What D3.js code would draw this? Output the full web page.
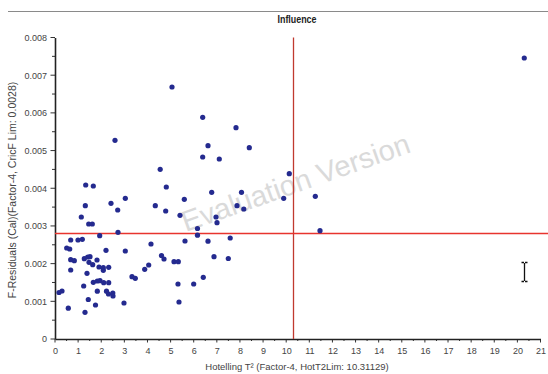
<!DOCTYPE html>
<html>
<head>
<meta charset="utf-8">
<script src="https://cdn.jsdelivr.net/npm/d3@7"></script>
<style>
  html, body { margin: 0; padding: 0; background: #fff; }
  svg { display: block; }
</style>
</head>
<body>
<svg id="chart" width="548" height="374"></svg>
<script>
// Influence plot: Hotelling T² vs F-residuals, 4-factor model
const hotellingT2 = [
  1.328, 1.657, 4.814, 1.311, 2.422, 3.041, 2.712, 4.338, 4.788, 5.593,
  5.407, 1.138, 1.458, 1.613, 1.933, 2.725, 6.163, 5.623, 4.152, 0.679,
  0.995, 1.181, 0.506, 0.636, 2.206, 3.041, 0.679, 0.835, 1.267, 1.414,
  1.514, 1.817, 1.471, 1.631, 1.903, 2.089, 2.323, 2.089, 0.679, 1.384,
  4.053, 3.880, 4.606, 4.715, 5.147, 5.333, 3.330, 3.473, 1.657, 1.830,
  1.946, 2.106, 2.323, 1.241, 5.320, 5.999, 0.303, 0.173, 1.830, 2.228,
  2.314, 2.500, 2.509, 1.440, 1.752, 2.984, 5.363, 0.575, 1.298, 6.778,
  8.067, 7.872, 8.166, 9.892, 6.964, 7.007, 6.163, 6.618, 7.578, 6.877,
  7.496, 6.414, 5.061, 6.388, 7.829, 6.618, 6.388, 7.106, 8.404, 4.550,
  10.134, 11.259, 11.462, 20.298, 2.595
];
const fResiduals = [
  0.004086, 0.004060, 0.004033, 0.003537, 0.003601, 0.003733, 0.003423, 0.003537, 0.003396, 0.003707,
  0.003282, 0.003237, 0.003051, 0.003051, 0.002741, 0.002831, 0.002932, 0.002600, 0.002521, 0.002627,
  0.002627, 0.002645, 0.002415, 0.002388, 0.002354, 0.002335, 0.002104, 0.002078, 0.002131, 0.002176,
  0.002184, 0.002096, 0.002035, 0.001971, 0.001910, 0.001892, 0.001902, 0.001823, 0.001831, 0.001743,
  0.001964, 0.001849, 0.002216, 0.002123, 0.002051, 0.002051, 0.001653, 0.001611, 0.001504, 0.001539,
  0.001547, 0.001494, 0.001494, 0.001406, 0.001459, 0.001459, 0.001274, 0.001234, 0.001268, 0.001268,
  0.001194, 0.001221, 0.001141, 0.001048, 0.000902, 0.000955, 0.000982, 0.000817, 0.000708, 0.003893,
  0.003893, 0.003537, 0.003449, 0.003733, 0.003237, 0.003086, 0.002754, 0.002595, 0.002680, 0.002184,
  0.002136, 0.001637, 0.006687, 0.005883, 0.005607, 0.005129, 0.004829, 0.004776, 0.005076, 0.004503,
  0.004386, 0.003786, 0.002874, 0.007456, 0.005272
];
const xTickValues = d3.range(0, 22);
const yTickValues = [0, 0.001, 0.002, 0.003, 0.004, 0.005, 0.006, 0.007, 0.008];
const t2Limit = 10.31129;
const fLimit = 0.0028;

const titleText = "Influence";
const xTitle = "Hotelling T\u00B2 (Factor-4, HotT2Lim: 10.31129)";
const yTitle = "F-Residuals (Cal)(Factor-4, CricF Lim: 0.0028)";
const watermark = "Evaluation Version";

const points = hotellingT2.map((t, i) => ({ t2: t, f: fResiduals[i] }));

const svg = d3.select("#chart");
const font = "'Liberation Sans', Arial, sans-serif";

const x = d3.scaleLinear().domain([0, 21]).range([55, 540.5]);
const y = d3.scaleLinear().domain([0, 0.008]).range([339, 37.5]);

// header rule and title
svg.append("line")
  .attr("x1", 8).attr("x2", 548).attr("y1", 11.5).attr("y2", 11.5)
  .style("stroke", "#8a8a8a").style("stroke-width", 1.2);
svg.append("text")
  .attr("x", 297).attr("y", 23)
  .attr("text-anchor", "middle")
  .attr("font-family", font).attr("font-weight", "bold").attr("font-size", 10)
  .attr("textLength", 39).attr("lengthAdjust", "spacingAndGlyphs")
  .attr("fill", "#222")
  .text(titleText);

// watermark
svg.append("text")
  .attr("transform", "translate(299,192) rotate(-19.5)")
  .attr("text-anchor", "middle")
  .attr("font-family", font).attr("font-size", 29)
  .attr("fill", "#dadada")
  .text(watermark);

// minor ticks (half units / half thousandths)
const xMinor = d3.range(0, 21.01, 0.5);
const yMinor = d3.range(0, 0.00801, 0.0005);
svg.append("g").selectAll("line").data(xMinor).join("line")
  .attr("x1", d => x(d)).attr("x2", d => x(d))
  .attr("y1", 339).attr("y2", (d, i) => (i % 2 === 0 ? 342.5 : 341))
  .style("stroke", "#333").style("stroke-width", 1);
svg.append("g").selectAll("line").data(yMinor).join("line")
  .attr("y1", d => y(d)).attr("y2", d => y(d))
  .attr("x1", 55).attr("x2", (d, i) => (i % 2 === 0 ? 50.5 : 52))
  .style("stroke", "#333").style("stroke-width", 1);

// axes
const xAxis = d3.axisBottom(x).tickValues(xTickValues).tickSize(0).tickPadding(9)
  .tickFormat(d3.format("d"));
const yAxis = d3.axisLeft(y).tickValues(yTickValues).tickSize(0).tickPadding(8)
  .tickFormat(d => d === 0 ? "0" : d3.format(".3f")(d));

const gx = svg.append("g").attr("transform", "translate(0,339)").call(xAxis);
const gy = svg.append("g").attr("transform", "translate(55,0)").call(yAxis);
[gx, gy].forEach(a => {
  a.select(".domain").style("stroke", "#222").style("stroke-width", 1.6);
  a.selectAll("text").attr("font-family", font).attr("font-size", 9).attr("fill", "#444");
});

// axis titles
svg.append("text")
  .attr("x", 297).attr("y", 370)
  .attr("text-anchor", "middle")
  .attr("font-family", font).attr("font-size", 9.5).attr("fill", "#444")
  .text(xTitle);
svg.append("text")
  .attr("transform", "translate(16,190) rotate(-90)")
  .attr("text-anchor", "middle")
  .attr("font-family", font).attr("font-size", 10.5).attr("fill", "#444")
  .text(yTitle);

// critical limits
const limits = svg.append("g").attr("class", "limits");
limits.append("line")
  .attr("x1", Math.round(x(t2Limit)) + 0.5).attr("x2", Math.round(x(t2Limit)) + 0.5)
  .attr("y1", y(0.008)).attr("y2", y(0))
  .style("stroke", "#c0392f").style("stroke-width", 1.3);
limits.append("line")
  .attr("x1", 55).attr("x2", 548)
  .attr("y1", Math.round(y(fLimit)) + 0.5).attr("y2", Math.round(y(fLimit)) + 0.5)
  .style("stroke", "#e8342e").style("stroke-width", 1.3);

// samples
svg.append("g").selectAll("circle").data(points).join("circle")
  .attr("cx", d => x(d.t2)).attr("cy", d => y(d.f))
  .attr("r", 2.6)
  .style("fill", "#242a8f");

// I-beam pointer
const cx = 524.5;
svg.append("path")
  .attr("d", `M${cx},263 V281 M${cx - 3},262.5 H${cx - 0.5} M${cx + 0.5},262.5 H${cx + 3} M${cx - 3},281.5 H${cx - 0.5} M${cx + 0.5},281.5 H${cx + 3}`)
  .style("stroke", "#111").style("stroke-width", 1.3).style("fill", "none");
</script>
</body>
</html>
